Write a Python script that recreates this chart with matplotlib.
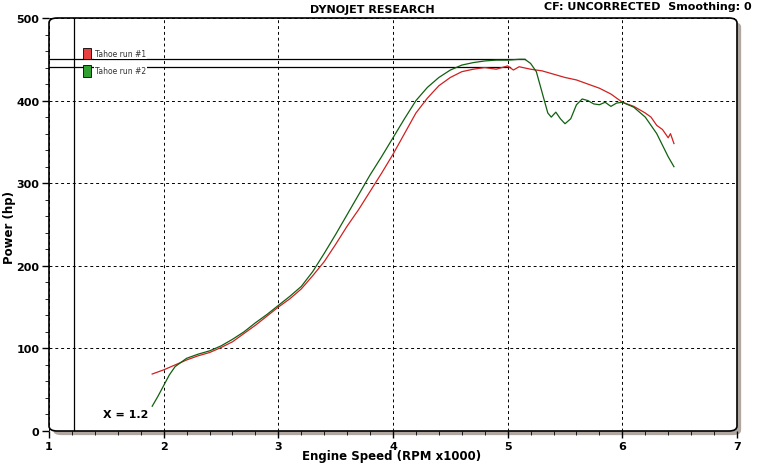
import matplotlib
matplotlib.use("Agg")
import matplotlib.pyplot as plt
from matplotlib.patches import FancyBboxPatch

red_x = [1.9, 2.0, 2.1, 2.2, 2.3, 2.4, 2.5, 2.6, 2.7, 2.8, 2.9, 3.0, 3.1, 3.2, 3.3, 3.4, 3.5, 3.6, 3.7, 3.8, 3.9, 4.0, 4.1, 4.2, 4.3, 4.4, 4.5, 4.6, 4.7, 4.8, 4.9, 5.0, 5.05, 5.1, 5.2, 5.3, 5.4, 5.5, 5.6, 5.7, 5.8, 5.9, 6.0, 6.1, 6.2, 6.25, 6.3, 6.35, 6.4, 6.42, 6.45]
red_y = [69, 74, 80, 86, 91, 95, 101, 108, 118, 128, 139, 150, 160, 172, 188, 205, 226, 248, 268, 290, 312, 335, 360, 385, 403, 418, 428, 435, 438, 440, 438, 442, 437, 441, 438, 436, 432, 428, 425, 420, 415, 408, 398, 393, 385, 380, 370, 365, 355, 360, 348]
green_x = [1.9, 1.95, 2.0, 2.05, 2.1, 2.2, 2.3, 2.4, 2.5, 2.6, 2.7, 2.8, 2.9, 3.0, 3.1, 3.2, 3.3, 3.4, 3.5, 3.6, 3.7, 3.8, 3.9, 4.0, 4.1, 4.2, 4.3, 4.4, 4.5, 4.6, 4.7, 4.8, 4.9, 5.0, 5.1, 5.15, 5.2, 5.25, 5.3, 5.35, 5.38, 5.42, 5.46, 5.5, 5.55, 5.6, 5.65, 5.7, 5.75, 5.8, 5.85, 5.9, 5.95, 6.0, 6.1, 6.2, 6.3, 6.4, 6.45]
green_y = [30, 42, 55, 68, 78, 88, 93, 97, 103, 111, 120, 131, 141, 152, 163, 175, 193, 215, 238, 262, 286, 310, 332, 355, 378, 400, 416, 428, 437, 443, 446, 448, 449, 449, 450, 450, 445, 435, 410, 385, 380, 386, 378, 372, 378, 395, 402, 400, 396, 395, 398, 393, 397, 398, 392, 380, 360, 332, 320]

fig = plt.figure(figsize=(7.6, 4.64), dpi=100)
ax = fig.add_axes([49/760, 32/464, 688/760, 413/464])
ax.set_xlim(1, 7)
ax.set_ylim(0, 500)
for s in ax.spines.values():
    s.set_visible(False)
rs = "round,pad=0,rounding_size=0.012"
ax.add_patch(FancyBboxPatch((0.006, -0.01), 1, 1, boxstyle=rs, transform=ax.transAxes,
                            fc="#b0a8a0", ec="none", clip_on=False, zorder=-1))
ax.add_patch(FancyBboxPatch((0, 0), 1, 1, boxstyle=rs, transform=ax.transAxes,
                            fc="white", ec="none", clip_on=False, zorder=-0.5))
ax.add_patch(FancyBboxPatch((0, 0), 1, 1, boxstyle=rs, transform=ax.transAxes,
                            fill=False, ec="black", lw=1.2, clip_on=False, zorder=5))
ax.set_facecolor("none")

ax.set_xticks(range(1, 8))
ax.set_yticks(range(0, 501, 100))
ax.set_xticks([1 + i * 0.2 for i in range(31)], minor=True)
ax.set_yticks(range(0, 501, 20), minor=True)
ax.tick_params(direction="out", length=5, labelsize=8, width=1, pad=2)
ax.tick_params(which="minor", direction="out", length=3)
for lab in ax.get_xticklabels() + ax.get_yticklabels():
    lab.set_fontweight("bold")
ax.grid(True, which="major", color="black", ls=(0, (3, 3)), lw=0.7)

ax.plot(red_x, red_y, color="#d02020", lw=0.9, zorder=3)
ax.plot(green_x, green_y, color="#106010", lw=0.9, zorder=3)

ax.axvline(1.22, color="black", lw=0.9)
ax.plot([1, 5.15], [450, 450], color="black", lw=0.9)
ax.plot([1, 5.02], [441, 441], color="black", lw=0.9)

ax.add_patch(plt.Rectangle((1.3, 450), 0.07, 14, fc="#e84040", ec="black", lw=0.6, zorder=4))
ax.add_patch(plt.Rectangle((1.3, 429), 0.07, 14, fc="#30a030", ec="black", lw=0.6, zorder=4))
ax.text(1.4, 457, "Tahoe run #1", fontsize=5.5, va="center", color="#333333",
        bbox=dict(fc="white", ec="none", pad=0.5), zorder=4)
ax.text(1.4, 436, "Tahoe run #2", fontsize=5.5, va="center", color="#333333",
        bbox=dict(fc="white", ec="none", pad=0.5), zorder=4)

ax.text(1.47, 17, "X = 1.2", fontsize=8, fontweight="bold")
fig.text(392/760, 1 - 457/464, "Engine Speed (RPM x1000)", ha="center", va="center", fontsize=8.5, fontweight="bold")
fig.text(10/760, 1 - 228/464, "Power (hp)", ha="center", va="center", rotation=90, fontsize=8.5, fontweight="bold")
fig.text(372/760, 1 - 10/464, "DYNOJET RESEARCH", ha="center", va="center", fontsize=8, fontweight="bold")
fig.text(752/760, 1 - 7/464, "CF: UNCORRECTED  Smoothing: 0", ha="right", va="center", fontsize=8, fontweight="bold")

fig.savefig("out.png", dpi=100)
